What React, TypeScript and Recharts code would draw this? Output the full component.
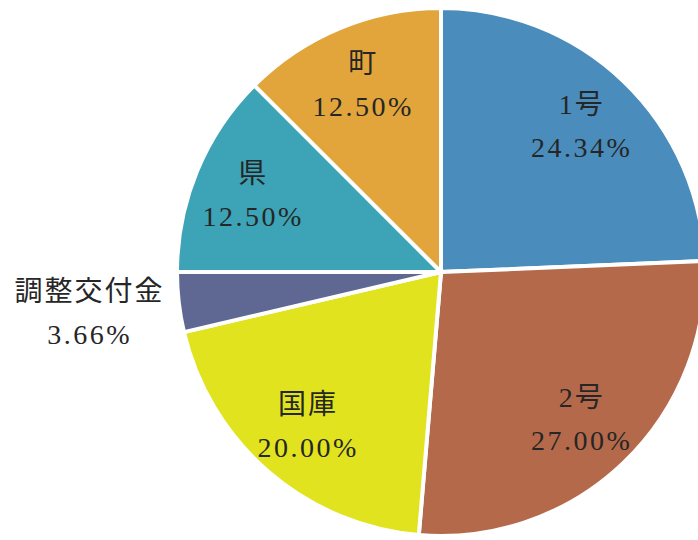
import React from "react";
import { PieChart, Pie, Cell } from "recharts";

const categories = ["1号", "2号", "国庫", "調整交付金", "県", "町"];
const shares = [24.34, 27.0, 20.0, 3.66, 12.5, 12.5];
const colors = ["#4a8cbb", "#b4694b", "#e1e31f", "#5e6892", "#3da3b6", "#e1a53c"];

const data = categories.map((name, i) => ({ name, value: shares[i] }));

const RAD = Math.PI / 180;

const renderLabel = (props: any) => {
  const { cx, cy, midAngle, outerRadius, index, percent } = props;
  const inside = percent > 0.05;
  const r = inside ? outerRadius * 0.77 : outerRadius * 1.34;
  const x = cx + r * Math.cos(-midAngle * RAD);
  const y = cy + r * Math.sin(-midAngle * RAD);
  return (
    <text
      x={x}
      y={y}
      textAnchor="middle"
      fill="#262626"
      style={{ fontFamily: "'Liberation Serif', 'Noto Sans CJK JP', serif" }}
    >
      <tspan x={x} y={y - 21} dominantBaseline="central" fontSize={28} letterSpacing={2}>
        {data[index].name}
      </tspan>
      <tspan x={x} y={y + 22} dominantBaseline="central" fontSize={28} letterSpacing={2.5}>
        {shares[index].toFixed(2)}%
      </tspan>
    </text>
  );
};

export default function App() {
  return (
    <div style={{ position: "absolute", left: 0, top: 0, width: 698, height: 540, background: "#fff" }}>
      <PieChart width={698} height={540} margin={{ top: 0, right: 0, bottom: 0, left: 0 }}>
        <Pie
          data={data}
          dataKey="value"
          nameKey="name"
          cx={441}
          cy={272}
          outerRadius={264}
          startAngle={90}
          endAngle={-270}
          stroke="#ffffff"
          strokeWidth={4}
          label={renderLabel}
          labelLine={false}
          isAnimationActive={false}
        >
          {data.map((d, i) => (
            <Cell key={d.name} fill={colors[i]} />
          ))}
        </Pie>
      </PieChart>
    </div>
  );
}
